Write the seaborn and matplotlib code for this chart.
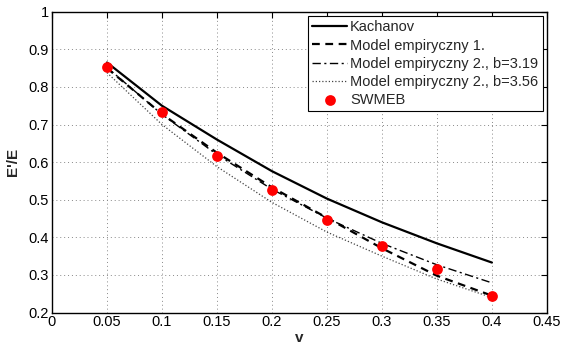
import pandas as pd
import matplotlib
matplotlib.use('Agg')
import matplotlib.pyplot as plt
import seaborn as sns

# values
v = [0.05, 0.10, 0.15, 0.20, 0.25, 0.30, 0.35, 0.40]
kachanov = [0.865, 0.750, 0.660, 0.576, 0.503, 0.440, 0.384, 0.333]
model1 = [0.850, 0.728, 0.625, 0.533, 0.452, 0.371, 0.298, 0.245]
model2_b319 = [0.852, 0.727, 0.620, 0.528, 0.451, 0.384, 0.327, 0.279]
model2_b356 = [0.838, 0.700, 0.588, 0.493, 0.414, 0.350, 0.289, 0.240]
swmeb = [0.852, 0.733, 0.617, 0.526, 0.446, 0.376, 0.315, 0.245]

x_ticks = [0, 0.05, 0.1, 0.15, 0.2, 0.25, 0.3, 0.35, 0.4, 0.45]
x_labels = ['0', '0.05', '0.1', '0.15', '0.2', '0.25', '0.3', '0.35', '0.4', '0.45']
y_ticks = [0.2, 0.3, 0.4, 0.5, 0.6, 0.7, 0.8, 0.9, 1.0]
y_labels = ['0.2', '0.3', '0.4', '0.5', '0.6', '0.7', '0.8', '0.9', '1']

sns.set_style('white')
plt.rcParams['font.family'] = ['Liberation Sans', 'DejaVu Sans']
plt.rcParams['xtick.direction'] = 'in'
plt.rcParams['ytick.direction'] = 'in'

df = pd.DataFrame({'v': v, 'Kachanov': kachanov, 'm1': model1,
                   'm319': model2_b319, 'm356': model2_b356, 'swmeb': swmeb})

fig = plt.figure(figsize=(5.65, 3.45), dpi=100)
ax = fig.add_axes([0.092, 0.094, 0.876, 0.872])

sns.lineplot(data=df, x='v', y='Kachanov', ax=ax, color='black', lw=1.6,
             label='Kachanov')
sns.lineplot(data=df, x='v', y='m1', ax=ax, color='black', lw=1.6,
             linestyle=(0, (3.5, 2.5)), label='Model empiryczny 1.')
sns.lineplot(data=df, x='v', y='m319', ax=ax, color='black', lw=1.0,
             linestyle=(0, (6, 2.5, 1.5, 2.5)), label='Model empiryczny 2., b=3.19')
sns.lineplot(data=df, x='v', y='m356', ax=ax, color='#444444', lw=0.9,
             linestyle=(0, (1, 1.6)), label='Model empiryczny 2., b=3.56')
sns.scatterplot(data=df, x='v', y='swmeb', ax=ax, color='red', s=60,
                edgecolor='red', linewidth=0, label='SWMEB', zorder=5)

ax.set_xlim(0, 0.45)
ax.set_ylim(0.2, 1.0)
ax.set_xticks(x_ticks)
ax.set_xticklabels(x_labels)
ax.set_yticks(y_ticks)
ax.set_yticklabels(y_labels)
ax.tick_params(labelsize=10.5, length=4, width=0.8, top=True, right=True,
               pad=2, colors='black')
ax.grid(True, linestyle=(0, (1, 3)), color='#888888', lw=0.7)
for s in ax.spines.values():
    s.set_color('black')
    s.set_linewidth(1.0)

ax.set_xlabel('v', fontsize=11, fontweight='bold', labelpad=1)
ax.set_ylabel("E'/E", fontsize=11, fontweight='bold', labelpad=6)

leg = ax.legend(loc='upper right', fontsize=10.5, frameon=True, fancybox=False,
                edgecolor='black', framealpha=1, borderpad=0.3, labelspacing=0.28,
                handlelength=2.4, handletextpad=0.2, borderaxespad=0.3)
leg.get_frame().set_linewidth(0.8)

fig.savefig('out.png', dpi=100)
plt.close(fig)
